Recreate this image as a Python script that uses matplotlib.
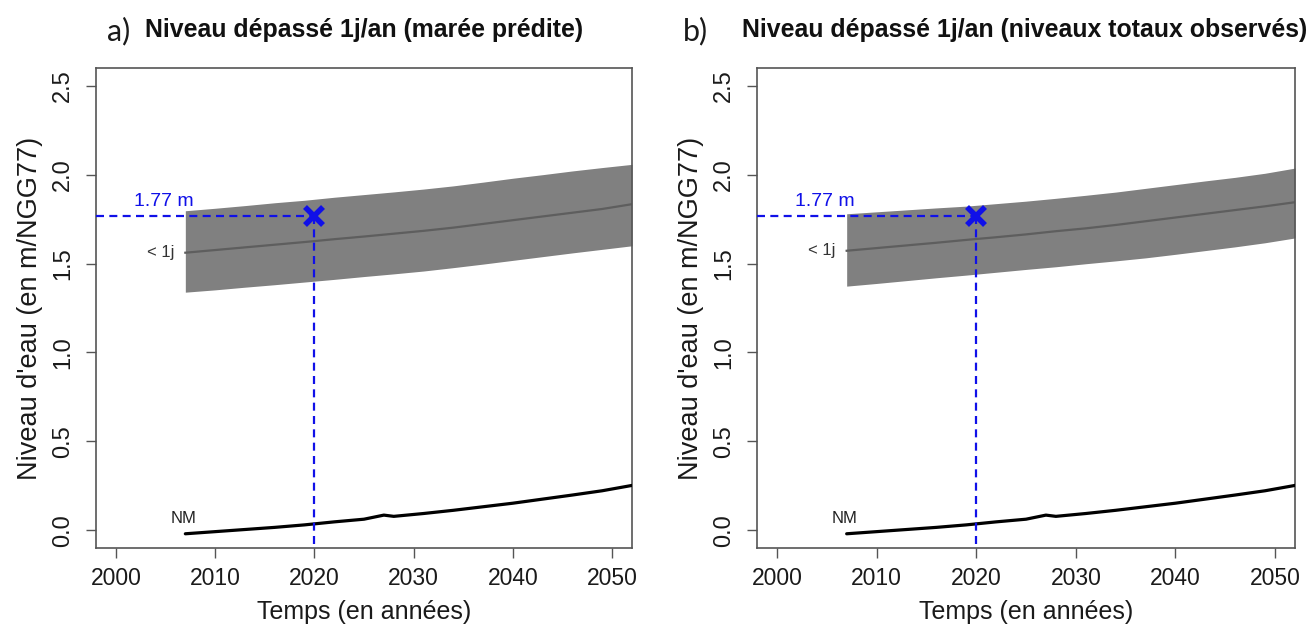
import matplotlib
matplotlib.use("Agg")
import matplotlib.pyplot as plt

# ---- data ----
band_years = [2007, 2010, 2013, 2016, 2019, 2022, 2025, 2028, 2031, 2034, 2037, 2040, 2043, 2046, 2049, 2052]

mid_a = [1.561, 1.576, 1.591, 1.606, 1.621, 1.637, 1.652, 1.668, 1.684, 1.702, 1.723, 1.744, 1.765, 1.786, 1.807, 1.834]
upper_a = [1.797, 1.811, 1.826, 1.842, 1.856, 1.873, 1.888, 1.903, 1.919, 1.937, 1.958, 1.980, 2.000, 2.021, 2.040, 2.058]
lower_a = [1.339, 1.352, 1.367, 1.381, 1.396, 1.411, 1.427, 1.442, 1.458, 1.477, 1.497, 1.518, 1.539, 1.560, 1.580, 1.600]

mid_b = [1.572, 1.587, 1.602, 1.617, 1.633, 1.648, 1.664, 1.682, 1.698, 1.717, 1.738, 1.759, 1.780, 1.801, 1.822, 1.845]
upper_b = [1.780, 1.791, 1.802, 1.813, 1.823, 1.837, 1.851, 1.867, 1.884, 1.902, 1.923, 1.944, 1.965, 1.985, 2.008, 2.037]
lower_b = [1.373, 1.388, 1.404, 1.420, 1.435, 1.451, 1.467, 1.482, 1.499, 1.515, 1.532, 1.552, 1.573, 1.594, 1.617, 1.644]

nm_years = [2007, 2010, 2013, 2016, 2019, 2022, 2025, 2027, 2028, 2031, 2034, 2037, 2040, 2043, 2046, 2049, 2052]
nm = [-0.02, -0.008, 0.004, 0.016, 0.030, 0.047, 0.062, 0.085, 0.078, 0.094, 0.112, 0.132, 0.152, 0.175, 0.198, 0.222, 0.252]

ref_year = 2020
ref_level = 1.77
ref_label = "1.77 m"

x_ticks = [2000, 2010, 2020, 2030, 2040, 2050]
y_ticks = [0.0, 0.5, 1.0, 1.5, 2.0, 2.5]

panel_letters = ["a)", "b)"]
panel_titles = ["Niveau dépassé 1j/an (marée prédite)",
                "Niveau dépassé 1j/an (niveaux totaux observés)"]
x_label = "Temps (en années)"
y_label = "Niveau d'eau (en m/NGG77)"

# ---- figure ----
plt.rcParams['font.family'] = ['Liberation Sans', 'DejaVu Sans']
W, H = 1311, 628
fig = plt.figure(figsize=(W / 100, H / 100), dpi=100)

axes_px = [(96, 632), (757, 1295)]
top_px, bot_px = 68, 548

bands = [(upper_a, mid_a, lower_a), (upper_b, mid_b, lower_b)]
blue = "#1010e8"
frame_col = "#555555"
txt_col = "#1a1a1a"

for i, (l, r) in enumerate(axes_px):
    ax = fig.add_axes([l / W, 1 - bot_px / H, (r - l) / W, (bot_px - top_px) / H])
    up, md, lo = bands[i]
    ax.fill_between(band_years, lo, up, color="#808080", linewidth=0, zorder=1)
    ax.plot(band_years, md, color="#5e5e5e", lw=1.6, zorder=2)
    ax.plot(nm_years, nm, color="black", lw=2.3, zorder=3, solid_capstyle="round")

    ax.set_xlim(1998, 2052)
    ax.set_ylim(-0.1, 2.6)

    ax.plot([1998, ref_year], [ref_level, ref_level], color=blue, lw=1.6,
            ls=(0, (3.6, 2.4)), zorder=4)
    ax.plot([ref_year, ref_year], [ref_level, -0.1], color=blue, lw=1.6,
            ls=(0, (3.6, 2.4)), zorder=4)
    ax.plot([ref_year], [ref_level], marker="x", color=blue, ms=13, mew=4,
            zorder=5)

    ax.text(2004.8, ref_level + 0.03, ref_label, color=blue, fontsize=14,
            ha="center", va="bottom")
    ax.text(2005.9, md[0], "< 1j", color="#333333", fontsize=12,
            ha="right", va="center")
    ax.text(2006.8, nm[0] + 0.045, "NM", color="#222222", fontsize=12,
            ha="center", va="bottom")

    ax.set_xticks(x_ticks)
    ax.set_xticklabels([str(t) for t in x_ticks], fontsize=16.5)
    ax.set_yticks(y_ticks)
    ax.set_yticklabels([f"{t:.1f}" for t in y_ticks], fontsize=17,
                       rotation=90, va="center")
    ax.tick_params(axis="both", length=7, width=1, color=frame_col,
                   colors=txt_col)
    ax.tick_params(axis="x", pad=7)
    ax.tick_params(axis="y", pad=9)
    for sp in ax.spines.values():
        sp.set_color(frame_col)
        sp.set_linewidth(1.2)

    ax.set_xlabel(x_label, fontsize=18, labelpad=7, color=txt_col)
    ax.set_ylabel(y_label, fontsize=19.5, labelpad=6, color=txt_col)

# titles
letter_x = [107, 683]
title_x = [145, 742]
for i in range(2):
    fig.text(letter_x[i] / W, 1 - 31 / H, panel_letters[i], fontsize=22,
             family=["Lato", "DejaVu Sans"], ha="left", va="center", color=txt_col)
    fig.text(title_x[i] / W, 1 - 30 / H, panel_titles[i], fontsize=17.9,
             fontweight="bold", ha="left", va="center", color="#111111")

fig.savefig("out.png", dpi=100)
